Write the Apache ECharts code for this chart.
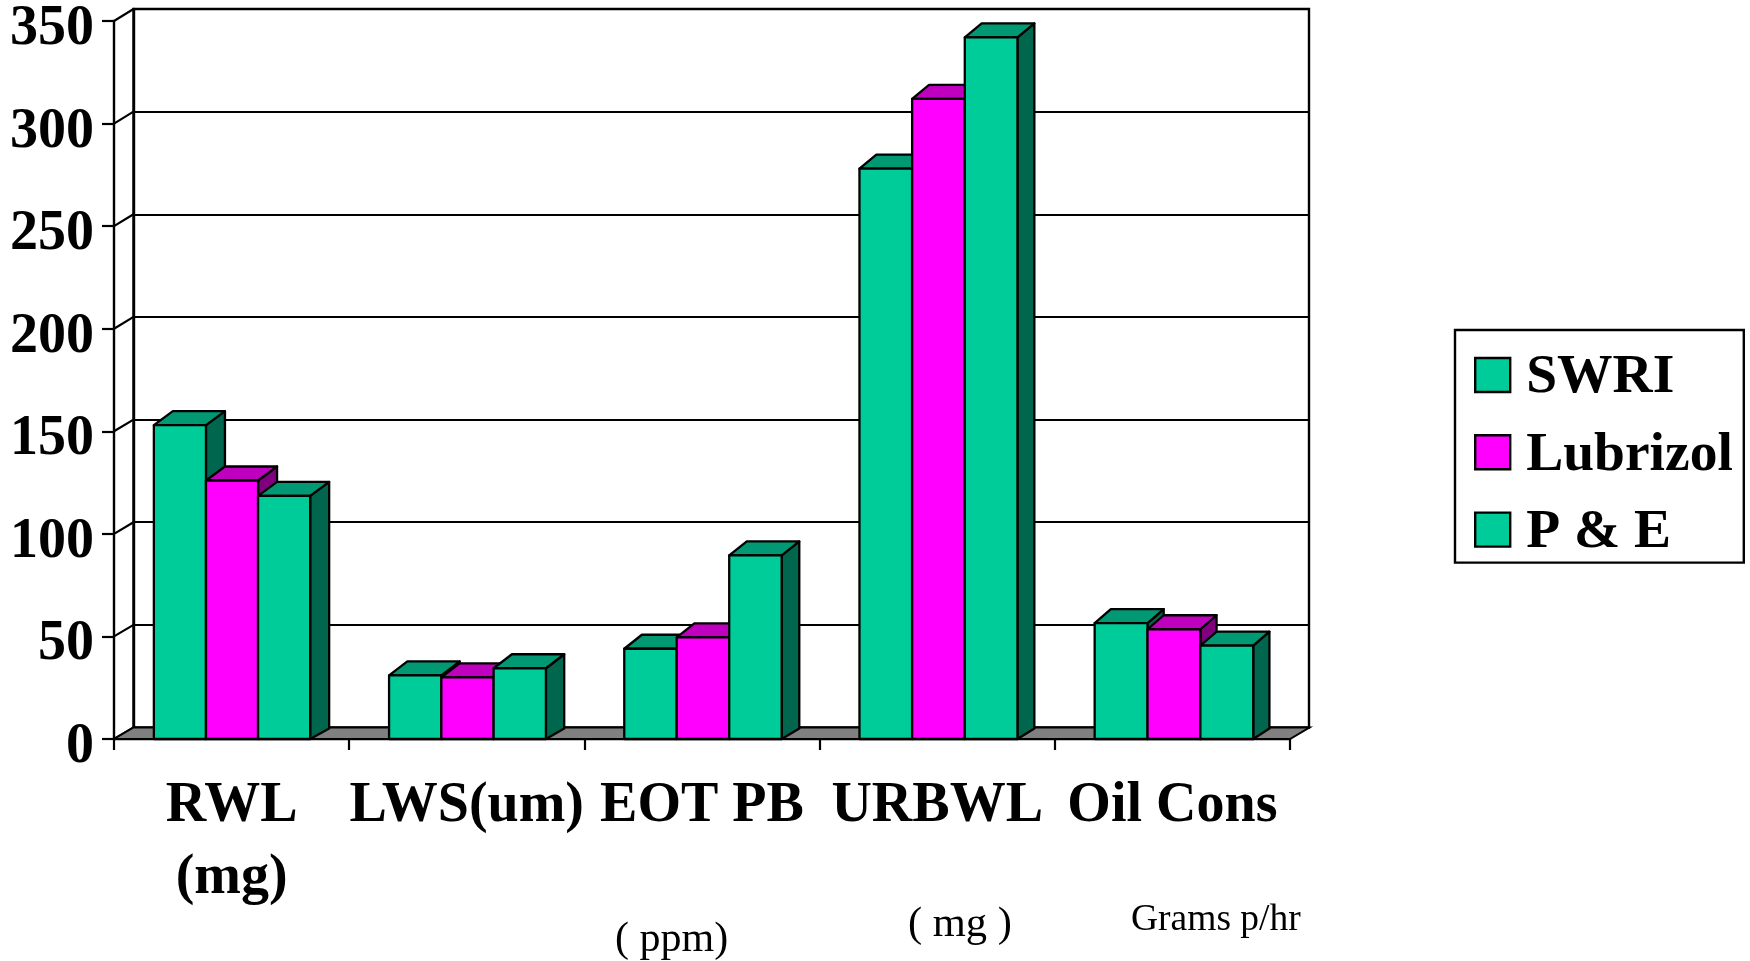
<!DOCTYPE html>
<html><head><meta charset="utf-8">
<style>html,body{margin:0;padding:0;background:#fff}#c{width:1750px;height:961px}</style>
<script src="https://cdn.jsdelivr.net/npm/echarts@6/dist/echarts.min.js"></script>
</head><body><div id="c"></div>
<script>
const categories = ['RWL\n(mg)','LWS(um)','EOT PB','URBWL','Oil Cons'];
const swri = [153,31,44,278,56.5];
const lubrizol = [126,30,49.5,312,53.5];
const pe = [118.5,34.5,89.5,342,45.5];
const yTicks = [0,50,100,150,200,250,300,350];
const FONT = '"Liberation Serif","Times New Roman",serif';

const chart = echarts.init(document.getElementById('c'),null,{renderer:'canvas'});
const DYT = 14, DYB = 10.5, LW = 2.3;

function barSeries(name, values, idx, front, top, side){
  return {
    name, type:'custom', coordinateSystem:'cartesian2d', xAxisIndex:0, yAxisIndex:0, z:5+idx,
    itemStyle:{color:front},
    data: values.map((v,i)=>[i,v]),
    renderItem(params, api){
      const cat = api.value(0);
      const c = api.coord([cat, api.value(1)]);
      const base = api.coord([cat, 0]);
      const band = api.size([1,0])[0];
      const w = band*(0.2215+0.0008*cat);
      const DX = 19 - 0.7*cat;
      const x0 = c[0] - band*0.3305 + idx*w, x1 = x0+w, yT = c[1], yB = base[1];
      const st = f=>({fill:f, stroke:'#000', lineWidth:LW, lineJoin:'round'});
      return {type:'group', children:[
        {type:'polygon', shape:{points:[[x1,yT],[x1+DX,yT-DYT],[x1+DX,yB-DYB],[x1,yB]]}, style:st(side)},
        {type:'polygon', shape:{points:[[x0,yT],[x0+DX,yT-DYT],[x1+DX,yT-DYT],[x1,yT]]}, style:st(top)},
        {type:'rect', shape:{x:x0,y:yT,width:w,height:yB-yT}, style:st(front)}
      ]};
    }
  };
}

const option = {
  animation:false,
  backgroundColor:'#fff',
  grid:[
    {left:114, right:460, top:21, height:718, outerBoundsMode:'none'},
    {left:133.5, right:441, top:9, height:718.5, outerBoundsMode:'none', show:true, borderColor:'#000', borderWidth:2.4, backgroundColor:'transparent'}
  ],
  xAxis:[
    {type:'category', gridIndex:0, data:categories,
     axisLine:{lineStyle:{color:'#000',width:2.4}},
     axisTick:{show:true,length:11,lineStyle:{color:'#000',width:2.2}},
     axisLabel:{color:'#000',fontFamily:FONT,fontWeight:'bold',fontSize:56,lineHeight:72,margin:32,interval:0}},
    {type:'category', gridIndex:1, data:categories, show:false}
  ],
  yAxis:[
    {type:'value', gridIndex:0, min:0, max:350, interval:50,
     axisLine:{show:true,lineStyle:{color:'#000',width:2.4}},
     axisTick:{show:true,length:12,lineStyle:{color:'#000',width:2.2}},
     splitLine:{show:false},
     axisLabel:{color:'#000',fontFamily:FONT,fontWeight:'bold',fontSize:56,margin:20,
                verticalAlign:'top',lineHeight:17,
                verticalAlignMinLabel:'top',verticalAlignMaxLabel:'top'}},
    {type:'value', gridIndex:1, min:0, max:350, interval:50,
     axisLine:{show:true,lineStyle:{color:'#000',width:2.4}},
     axisTick:{show:false}, axisLabel:{show:false},
     splitLine:{show:true,lineStyle:{color:'#000',width:2.2}}}
  ],
  legend:{
    left:1455, top:330, orient:'vertical', align:'left', icon:'rect',
    data:['SWRI','Lubrizol','P & E'],
    backgroundColor:'#fff', borderColor:'#000', borderWidth:2.4,
    padding:[14,11,2,19], itemWidth:35, itemHeight:34, itemGap:15.3,
    itemStyle:{borderColor:'#000',borderWidth:2.4},
    formatter:'{a|{name}}',
    textStyle:{color:'#000',padding:[0,0,0,11],
      rich:{a:{color:'#000',fontFamily:FONT,fontWeight:'bold',fontSize:55.5,lineHeight:56,padding:[6,0,0,0]}}}
  },
  graphic:[
    {type:'text',left:615,top:919,style:{text:'( ppm)',font:'42px '+FONT,fill:'#000'}},
    {type:'text',left:908,top:903,style:{text:'( mg )',font:'42.5px '+FONT,fill:'#000'}},
    {type:'text',left:1131,top:901,style:{text:'Grams p/hr',font:'37.5px '+FONT,fill:'#000'}}
  ],
  series:[
    {type:'custom', coordinateSystem:'cartesian2d', xAxisIndex:0, yAxisIndex:0, z:3, silent:true,
     data:[[0,0]], encode:{x:0,y:1},
     renderItem(params, api){
       const s = params.coordSys;
       const bl = chart.convertToPixel({gridIndex:1},[0,0]);
       const left = api.coord([0,0])[0]-api.size([1,0])[0]/2;
       const right = left+s.width;
       const backY = bl[1], frontY = api.coord([0,0])[1];
       const backL = left+19.5, backR = right+19.5;
       return {type:'polygon', shape:{points:[[left,frontY],[right,frontY],[backR,backY],[backL,backY]]},
               style:{fill:'#808080',stroke:'#000',lineWidth:2}};
     }},
    {type:'custom', coordinateSystem:'cartesian2d', xAxisIndex:0, yAxisIndex:0, z:2, silent:true,
     data:yTicks.map(v=>[0,v]), 
     renderItem(params, api){
       const v = api.value(1);
       const p = api.coord([0,v]);
       const left = p[0]-api.size([1,0])[0]/2;
       const by = chart.convertToPixel({yAxisIndex:1},v);
       return {type:'line', shape:{x1:left,y1:p[1],x2:left+19.5,y2:by}, style:{stroke:'#000',lineWidth:2.2}};
     }},
    barSeries('SWRI',swri,0,'#00CC99','#009973','#00664D'),
    barSeries('Lubrizol',lubrizol,1,'#FF00FF','#BF00BF','#800080'),
    barSeries('P & E',pe,2,'#00CC99','#009973','#00664D')
  ]
};
chart.setOption(option);
</script></body></html>
